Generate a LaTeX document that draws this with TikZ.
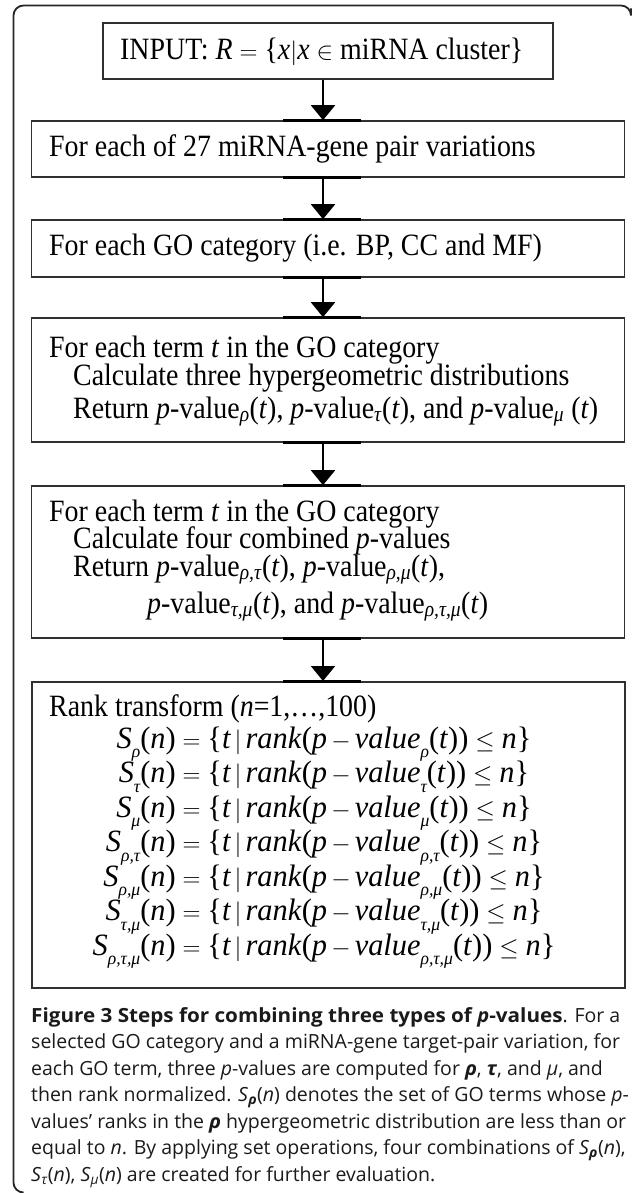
\documentclass[tikz,border=0pt]{standalone}
\usepackage{fontspec}
\setmainfont{Liberation Serif}[FakeStretch=0.9]
\newfontfamily\eqfamily{Liberation Serif}[FakeStretch=0.98]
\newfontfamily\capfamily{Open Sans}[BoldFeatures={FakeStretch=1.06},BoldItalicFeatures={FakeStretch=1.03}]
\usetikzlibrary{arrows.meta}
\definecolor{boxgray}{HTML}{303030}
\definecolor{framegray}{HTML}{262626}
\definecolor{captext}{HTML}{1a1a1a}
\newcommand{\boxfont}{\fontsize{31}{31}\selectfont}
\newcommand{\inpfont}{\fontsize{31}{31}\selectfont}
\newcommand{\eqsel}{\eqfamily\fontsize{31}{31}\selectfont\itshape}
\newcommand{\capsel}{\capfamily\fontsize{19.5}{19.5}\selectfont}
\newcommand{\mysub}[1]{\lower9.5pt\hbox{\fontsize{18}{18}\selectfont\itshape #1}}
\newcommand{\myeq}[1]{S\mysub{#1}\textup{(}n\textup{)}$\;=\;$\textup{\{}t$\,|\,$rank\textup{(}p$\,-\,$value\mysub{#1}\textup{(}t\textup{))}$\;\leq\;$n\textup{\}}}
\newcommand{\pv}[1]{\textit{p}-value\textsubscript{\textit{#1}}(\textit{t})}
\begin{document}
\begin{tikzpicture}[x=1pt,y=-1pt,
  box/.style={draw=boxgray, line width=1.6pt, rectangle, inner sep=0pt, minimum width=593pt},
  txt/.style={anchor=base west, inner sep=0pt, font=\boxfont},
  eqn/.style={anchor=base, inner sep=0pt, font=\eqsel},
  capline/.style={anchor=base west, inner sep=0pt, font=\capsel, text=captext},
  conn/.style={line width=2pt, -{Triangle[width=24pt,length=15pt]}},
  bar/.style={line width=3pt},
  framestyle/.style={draw=framegray, line width=1.8pt}]
\useasboundingbox (0,0) rectangle (633,1193);
% outer frame
\draw[framestyle, rounded corners=10pt] (22,1192.5) -- (13.5,1192.5) -- (13.5,5.5) -- (631,5.5) -- (631,8.5);
% boxes
\node[box, minimum width=450pt, minimum height=56pt] (b1) at (328,51) {};
\node[box, minimum height=56pt] (b2) at (328,149) {};
\node[box, minimum height=57pt] (b3) at (328,248.5) {};
\node[box, minimum height=124pt] (b4) at (328,380) {};
\node[box, minimum height=152pt] (b5) at (328,562) {};
\node[box, minimum height=306pt, line width=2pt] (b6) at (328,835) {};
% connector helpers
\coordinate (ax) at (323,0);
\coordinate (bl) at (283,0);
\coordinate (br) at (361,0);
\foreach \a/\b in {b1/b2,b2/b3,b3/b4,b4/b5,b5/b6}{
  \draw[conn] (\a.south -| ax) -- (\b.north -| ax);
  \draw[bar] (\b.north -| bl) -- (\b.north -| br);
}
\foreach \a in {b2,b3,b4,b5}{
  \draw[bar] (\a.south -| bl) -- (\a.south -| br);
}
% texts
\node[txt, font=\inpfont] (t1) at (120,60) {INPUT: \textit{R} $=$ \{\textit{x}$|$\textit{x} $\in$ miRNA cluster\}};
\node[txt] (t2) at (49,157) {For each of 27 miRNA-gene pair variations};
\node[txt] (t3) at (49,255) {For each GO category (i.e. BP, CC and MF)};
\node[txt] (t4a) at (49,357) {For each term \textit{t} in the GO category};
\node[txt] (t4b) at (73,385) {Calculate three hypergeometric distributions};
\node[txt] (t4c) at (73,418) {Return \pv{ρ}, \pv{τ}, and \textit{p}-value\textsubscript{\textit{μ}} (\textit{t})};
\node[txt] (t5a) at (49,521) {For each term \textit{t} in the GO category};
\node[txt] (t5b) at (73,548) {Calculate four combined \textit{p}-values};
\node[txt] (t5c) at (73,576) {Return \pv{ρ,τ}, \pv{ρ,μ},};
\node[txt] (t5d) at (147,613) {\pv{τ,μ}, and \pv{ρ,τ,μ}};
\node[txt] (t6) at (49,716) {Rank transform (\textit{n}=1,…,100)};
\node[eqn] (e1) at (324,748) {\myeq{ρ}};
\node[eqn] (e2) at (324,782.5) {\myeq{τ}};
\node[eqn] (e3) at (324,817) {\myeq{μ}};
\node[eqn] (e4) at (324,851.5) {\myeq{ρ,τ}};
\node[eqn] (e5) at (324,886) {\myeq{ρ,μ}};
\node[eqn] (e6) at (324,920.5) {\myeq{τ,μ}};
\node[eqn] (e7) at (324,955) {\myeq{ρ,τ,μ}};
% caption
\node[capline] (c1) at (31,1022) {\makebox[589pt][s]{\textbf{Figure 3 Steps for combining three types of \textit{p}-values}. For a}};
\node[capline] (c2) at (31,1048.5) {selected GO category and a miRNA-gene target-pair variation, for};
\node[capline] (c3) at (31,1075) {each GO term, three \textit{p}-values are computed for \textbf{\textit{ρ}}, \textbf{\textit{τ}}, and \textit{μ}, and};
\node[capline] (c4) at (31,1101.5) {then rank normalized. \textit{S}\textsubscript{\textbf{\textit{ρ}}}(\textit{n}) denotes the set of GO terms whose \textit{p}-};
\node[capline] (c5) at (31,1128) {values’ ranks in the \textbf{\textit{ρ}} hypergeometric distribution are less than or};
\node[capline] (c6) at (31,1154.5) {equal to \textit{n}. By applying set operations, four combinations of \textit{S}\textsubscript{\textbf{\textit{ρ}}}(\textit{n}),};
\node[capline] (c7) at (31,1181) {\textit{S}\textsubscript{\textit{τ}}(\textit{n}), \textit{S}\textsubscript{\textit{μ}}(\textit{n}) are created for further evaluation.};
\end{tikzpicture}
\end{document}
